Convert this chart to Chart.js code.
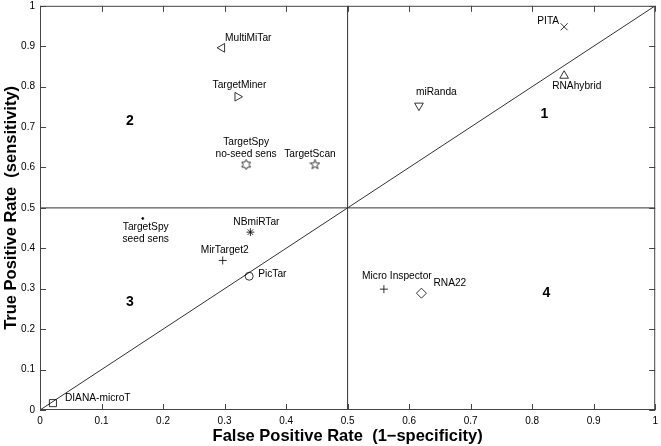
<!DOCTYPE html>
<html>
<head>
<meta charset="utf-8">
<script src="https://cdn.jsdelivr.net/npm/chart.js@4"></script>
<style>
  body { margin: 0; background: #fff; }
</style>
</head>
<body>
<canvas id="roc" width="661" height="446"></canvas>
<script>
(() => {
    'use strict'

    // tools and their measured rates
    const tools = ['PITA', 'RNAhybrid', 'miRanda', 'MultiMiTar', 'TargetMiner',
        'TargetSpy\nno-seed sens', 'TargetScan', 'TargetSpy\nseed sens', 'NBmiRTar',
        'MirTarget2', 'PicTar', 'Micro Inspector', 'RNA22', 'DIANA-microT']
    const fpr = [0.852, 0.852, 0.616, 0.296, 0.321, 0.335, 0.447, 0.167, 0.342, 0.297, 0.340, 0.559, 0.620, 0.021]
    const tpr = [0.948, 0.827, 0.753, 0.896, 0.775, 0.607, 0.607, 0.474, 0.440, 0.370, 0.331, 0.299, 0.289, 0.017]

    // quadrant numbers
    const quadNames = ['1', '2', '3', '4']
    const quadX = [0.820, 0.146, 0.146, 0.823]
    const quadY = [0.733, 0.714, 0.267, 0.289]

    const tickValues = [0, 0.1, 0.2, 0.3, 0.4, 0.5, 0.6, 0.7, 0.8, 0.9, 1]

    // guide lines: the two halves and the chance diagonal
    const guides = [
        [{ x: 0.5, y: 0 }, { x: 0.5, y: 1 }],
        [{ x: 0, y: 0.5 }, { x: 1, y: 0.5 }],
        [{ x: 0, y: 0 }, { x: 1, y: 1 }]
    ]

    // marker shapes drawn on small canvases
    function starCanvas(points, inner) {
        const c = document.createElement('canvas')
        c.width = 11
        c.height = 11
        const g = c.getContext('2d')
        g.strokeStyle = '#000'
        g.lineWidth = 0.8
        g.beginPath()
        for (let i = 0; i < points * 2; i++) {
            const r = i % 2 === 0 ? 5 : 5 * inner
            const a = -Math.PI / 2 + i * Math.PI / points
            const px = 5.5 + r * Math.cos(a)
            const py = 5.5 + r * Math.sin(a)
            if (i === 0) g.moveTo(px, py)
            else g.lineTo(px, py)
        }
        g.closePath()
        g.stroke()
        return c
    }
    const pentagram = starCanvas(5, 0.42)
    const hexagram = starCanvas(6, 0.58)

    const markers = ['crossRot', 'triangle', 'triangle', 'triangle', 'triangle', hexagram, pentagram,
        'circle', 'star', 'cross', 'circle', 'cross', 'rectRot', 'rect']
    const rotations = [0, 0, 180, -90, 90, 0, 0, 0, 0, 0, 0, 0, 0, 0]
    const radii = [5, 5, 5, 5, 5, 5, 5, 1, 4, 4, 4, 4, 5, 5]
    const fills = tools.map((t, i) => i === 7 ? '#000' : 'transparent')

    // label placement relative to the marker: dx, dy, align
    const labelPos = [
        [-5, -6, 'right'], [-12, 10, 'left'], [-3, -13, 'left'], [3, -10, 'left'],
        [2, -12, 'center'], [0, -10, 'center'], [-5, -10, 'center'], [3, 9, 'center'],
        [6, -10, 'center'], [2, -10, 'center'], [9, -2, 'left'], [13, -13, 'center'],
        [12, -10, 'left'], [12, -5, 'left']
    ]

    const overlay = {
        id: 'overlay',
        afterDatasetsDraw(chart) {
            const g = chart.ctx
            const xs = chart.scales.x
            const ys = chart.scales.y
            const a = chart.chartArea
            g.save()

            // frame with inward ticks
            g.strokeStyle = '#444'
            g.lineWidth = 1
            g.strokeRect(a.left + 0.5, a.top + 0.5, a.right - a.left - 1, a.bottom - a.top - 1)
            g.beginPath()
            tickValues.forEach(v => {
                const px = Math.round(xs.getPixelForValue(v)) + 0.5
                const py = Math.round(ys.getPixelForValue(v)) + 0.5
                g.moveTo(px, a.bottom); g.lineTo(px, a.bottom - 6)
                g.moveTo(px, a.top); g.lineTo(px, a.top + 6)
                g.moveTo(a.left, py); g.lineTo(a.left + 6, py)
                g.moveTo(a.right, py); g.lineTo(a.right - 6, py)
            })
            g.stroke()

            // tool names
            g.fillStyle = '#000'
            g.font = '10.2px "Liberation Sans", Arial, sans-serif'
            g.textBaseline = 'middle'
            tools.forEach((name, i) => {
                const px = xs.getPixelForValue(fpr[i])
                const py = ys.getPixelForValue(tpr[i])
                const [dx, dy, align] = labelPos[i]
                const lines = name.split('\n')
                g.textAlign = align
                lines.forEach((ln, k) => {
                    const off = dy < 0 ? dy - (lines.length - 1 - k) * 12 : dy + k * 12
                    g.fillText(ln, px + dx, py + off)
                })
            })

            // quadrant numbers
            g.font = 'bold 14px "Liberation Sans", Arial, sans-serif'
            g.textAlign = 'center'
            quadNames.forEach((q, i) => {
                g.fillText(q, xs.getPixelForValue(quadX[i]), ys.getPixelForValue(quadY[i]))
            })
            g.restore()
        }
    }

    const guideSets = guides.map(pts => ({
        type: 'line',
        data: pts,
        borderColor: '#333',
        borderWidth: 1,
        pointRadius: 0,
        fill: false,
        order: 2
    }))

    const tickLabel = v => String(Math.round(v * 10) / 10)

    const ctx = document.getElementById('roc')
    // eslint-disable-next-line no-unused-vars
    const rocChart = new Chart(ctx, {
        type: 'scatter',
        data: {
            datasets: [{
                data: fpr.map((x, i) => ({ x: x, y: tpr[i] })),
                pointStyle: markers,
                rotation: rotations,
                pointRadius: radii,
                pointHoverRadius: radii,
                pointBackgroundColor: fills,
                pointBorderColor: '#000',
                pointBorderWidth: 0.8,
                order: 1
            }, ...guideSets]
        },
        plugins: [overlay],
        options: {
            responsive: false,
            animation: false,
            layout: { padding: { top: 5, right: 4, left: 0, bottom: 0 } },
            plugins: {
                legend: { display: false },
                tooltip: { enabled: false }
            },
            scales: {
                x: {
                    type: 'linear',
                    min: 0,
                    max: 1,
                    afterFit: s => { s.height = 36; s.paddingLeft = 0; s.paddingRight = 0 },
                    afterBuildTicks: s => { s.ticks = tickValues.map(v => ({ value: v })) },
                    grid: { display: false, drawTicks: false },
                    border: { display: false },
                    ticks: {
                        padding: 5,
                        color: '#000',
                        maxRotation: 0,
                        callback: tickLabel,
                        font: { family: '"Liberation Sans", Arial, sans-serif', size: 10 }
                    },
                    title: {
                        display: true,
                        text: 'False Positive Rate  (1\u2212specificity)',
                        color: '#000',
                        padding: { top: 0, bottom: 0 },
                        font: { family: '"Liberation Sans", Arial, sans-serif', size: 16.5, weight: 'bold' }
                    }
                },
                y: {
                    type: 'linear',
                    min: 0,
                    max: 1,
                    afterFit: s => { s.width = 40; s.paddingTop = 0; s.paddingBottom = 0 },
                    afterBuildTicks: s => { s.ticks = tickValues.map(v => ({ value: v })) },
                    grid: { display: false, drawTicks: false },
                    border: { display: false },
                    ticks: {
                        padding: 5,
                        color: '#000',
                        callback: tickLabel,
                        font: { family: '"Liberation Sans", Arial, sans-serif', size: 10 }
                    },
                    title: {
                        display: true,
                        text: 'True Positive Rate  (sensitivity)',
                        color: '#000',
                        padding: { top: 2, bottom: 0 },
                        font: { family: '"Liberation Sans", Arial, sans-serif', size: 16.5, weight: 'bold' }
                    }
                }
            }
        }
    })
})()
</script>
</body>
</html>
